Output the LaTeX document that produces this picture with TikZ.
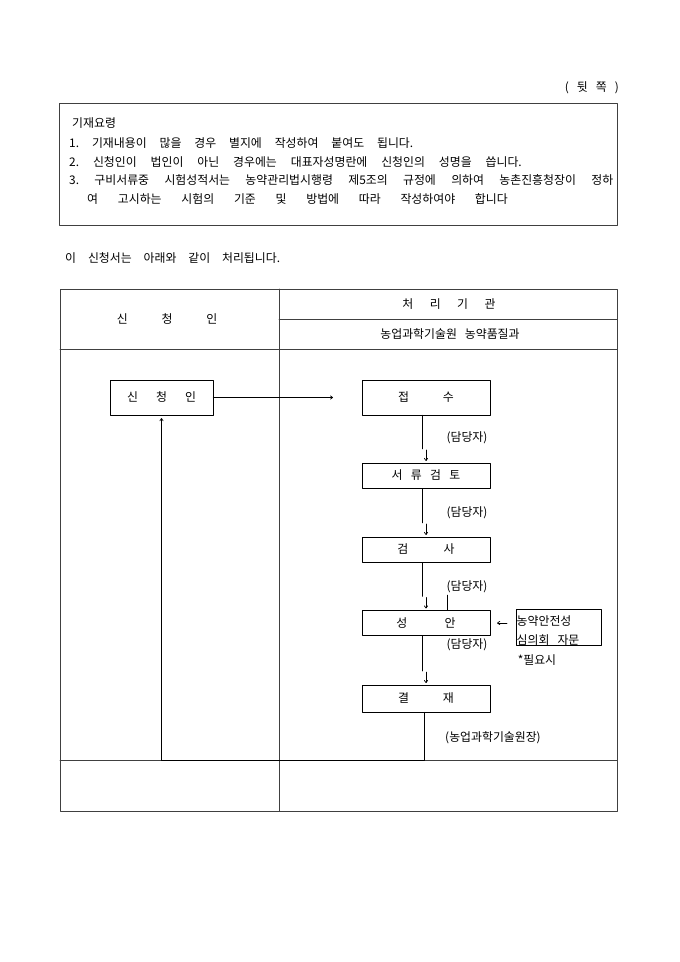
\documentclass[tikz,border=0pt]{standalone}
\usepackage{fontspec}
\setmainfont{Noto Sans CJK KR}[WordSpace=3]
\usetikzlibrary{arrows.meta}
\newcommand{\fitline}[2]{\makebox[#1][s]{#2}}
\frenchspacing

\begin{document}
\begin{tikzpicture}[
				x=0.875pt,
				y=-0.875pt,
				line cap=round,
				line join=round,
				every node/.style={font=\fontsize{10.4}{12}\selectfont,inner sep=0pt},
				>={To[length=2.6pt,width=3.6pt]},
				tableline/.style={black!75,line width=0.6pt},
				stepbox/.style={draw,line width=0.6pt,minimum width=112pt,minimum height=22pt},
				note/.style={anchor=west}
				]
				\useasboundingbox (0,0) rectangle (680,962);
				
				\node[anchor=east] (page) at (619,88) {( 뒷 쪽 )};
				
				\draw[tableline] (59,103) rectangle (617,225);
				\node[note] (title) at (72,123) {기재요령};
				\node[note] (item1) at (69,143) {\fitline{301pt}{1. 기재내용이 많을 경우 별지에 작성하여 붙여도 됩니다.}};
				\node[note] (item2) at (69,162) {\fitline{396pt}{2. 신청인이 법인이 아닌 경우에는 대표자성명란에 신청인의 성명을 씁니다.}};
				\node[note] (item3) at (69,180) {\fitline{476pt}{3. 구비서류중 시험성적서는 농약관리법시행령 제5조의 규정에 의하여 농촌진흥청장이 정하}};
				\node[note] (item3b) at (87,199) {\fitline{368pt}{여 고시하는 시험의 기준 및 방법에 따라 작성하여야 합니다}};
				
				\node[note] (intro) at (65,258) {\fitline{188pt}{이 신청서는 아래와 같이 처리됩니다.}};
				
				\draw[tableline] (60,289) rectangle (617,811);
				\draw[tableline] (279,289) -- (279,811);
				\draw[tableline] (279,319) -- (617,319);
				\draw[tableline] (60,349) -- (617,349);
				\draw[tableline] (60,760) -- (617,760);
				\coordinate (rowline) at (60,760);
				
				\node (colleft) at (167,319) {신\hspace{29.6pt}청\hspace{29.6pt}인};
				\node (colright) at (449,304) {처\hspace{14.4pt}리\hspace{14.4pt}기\hspace{14.4pt}관};
				\node (office) at (450,334) {농업과학기술원 농약품질과};
				
				\node[stepbox,minimum width=90pt,minimum height=30.6pt] (applicant) at (161.5,397.5)
				{신\hspace{15.8pt}청\hspace{15.8pt}인};
				\node[stepbox,minimum height=30.6pt] (jeopsu) at (426,397.5) {접\hspace{29.6pt}수};
				\node[stepbox] (seoryu) at (426,475.5) {서\hspace{7.3pt}류\hspace{7.3pt}검\hspace{7.3pt}토};
				\node[stepbox] (geomsa) at (426,549.5) {검\hspace{31pt}사};
				\node[stepbox] (seongan) at (426,623) {성\hspace{32.5pt}안};
				\node[stepbox,minimum height=23.6pt] (gyeoljae) at (426,698.5) {결\hspace{29.6pt}재};
				\node[draw,line width=0.6pt,minimum width=74.4pt,minimum height=31.5pt] (advice) at (558.5,627) {};
				\node[anchor=west,align=left,font=\fontsize{10.4}{16.6}\selectfont] (advicetext) at (516.5,630.5)
				{농약안전성\\심의회 자문};
				
				\node (damdang1) at (467,438) {(담당자)};
				\node (damdang2) at (467,513) {(담당자)};
				\node (damdang3) at (467,587) {(담당자)};
				\node (damdang4) at (467,645) {(담당자)};
				\node (needed) at (537,660) {*필요시};
				\node (director) at (493,738) {(농업과학기술원장)};
				
				\coordinate (toarrow) at (333,397.5);
				\draw[->,line width=0.6pt] (applicant.east) -- (toarrow);
				
				\foreach \a/\b in {jeopsu/seoryu,seoryu/geomsa,geomsa/seongan,seongan/gyeoljae}
				{
					\draw[line width=0.6pt] ([xshift=-3.5pt]\a.south) -- ([xshift=-3.5pt,yshift=12pt]\b.north);
					\draw[->,line width=0.6pt] ([yshift=11pt]\b.north) -- ([yshift=1.5pt]\b.north);
				}
				\draw[line width=0.6pt] ([xshift=18.4pt]seongan.north) -- ++(0,-15);
				
				\coordinate (advin) at ([xshift=-7.5pt]advice.west |- seongan.east);
				\draw[->,line width=0.6pt] (advin) -- ([xshift=6pt]seongan.east);
				
				\draw[->,line width=0.6pt] ([xshift=-1.75pt]gyeoljae.south) |- (applicant.south |- rowline)
				-- ([yshift=-2.5pt]applicant.south);
			\end{tikzpicture}
\end{document}
